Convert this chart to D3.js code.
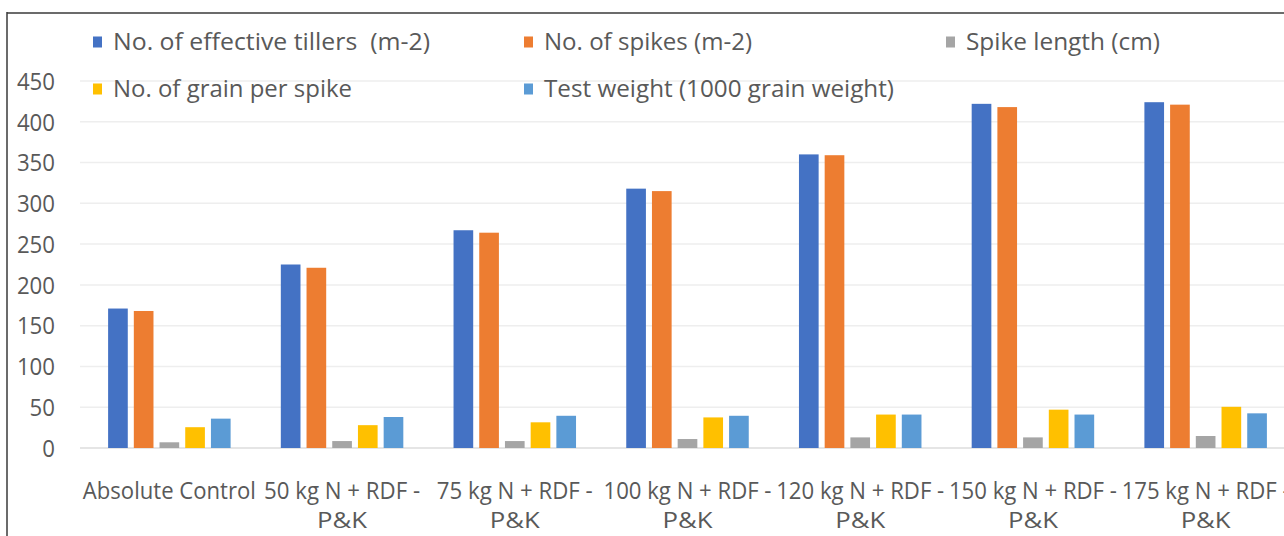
<!DOCTYPE html>
<html><head><meta charset="utf-8">
<script src="https://cdn.jsdelivr.net/npm/d3@7"></script>
<style>
html,body{margin:0;padding:0;background:#fff;overflow:hidden;}
svg{display:block;}
text{font-family:"Open Sans","Noto Sans",sans-serif;fill:#595959;}
</style></head>
<body>
<svg id="chart" width="1284" height="536"></svg>
<script>
const categories = ["Absolute Control","50 kg N + RDF - P&K","75 kg N + RDF - P&K","100 kg N + RDF - P&K","120 kg N + RDF - P&K","150 kg N + RDF - P&K","175 kg N + RDF - P&K"];
const categoryLines = [["Absolute Control"],["50 kg N + RDF -","P&K"],["75 kg N + RDF -","P&K"],["100 kg N + RDF -","P&K"],["120 kg N + RDF -","P&K"],["150 kg N + RDF -","P&K"],["175 kg N + RDF -","P&K"]];
const seriesNames = ["No. of effective tillers  (m-2)","No. of spikes (m-2)","Spike length (cm)","No. of grain per spike","Test weight (1000 grain weight)"];
const seriesColors = ["#4472C4","#ED7D31","#A5A5A5","#FFC000","#5B9BD5"];
const effectiveTillers = [171,225,267,318,360,422,424];
const spikes = [168,221,264,315,359,418,421];
const spikeLength = [7,8.5,8.5,11,13,13,14.7];
const grainPerSpike = [25.5,28,31.5,37.5,41,47,50.5];
const testWeight = [36,38,39.5,39.5,41,41,42.5];
const yTicks = [0,50,100,150,200,250,300,350,400,450];

const seriesValues = [effectiveTillers, spikes, spikeLength, grainPerSpike, testWeight];

const svg = d3.select("#chart");

// frame
svg.append("line").attr("x1",7).attr("x2",1284).attr("y1",13).attr("y2",13).attr("stroke","#6b6b6b").attr("stroke-width",2);
svg.append("line").attr("x1",7).attr("x2",7).attr("y1",12).attr("y2",536).attr("stroke","#3a3a3a").attr("stroke-width",1.5);

const x0 = d3.scaleBand().domain(categories).range([83,1292]).padding(0);
const clusterW = 122.5;
const x1 = d3.scaleBand().domain(d3.range(seriesNames.length)).range([0,clusterW]).paddingInner(0.235).paddingOuter(0);
const y = d3.scaleLinear().domain([0,450]).range([448,81]);

// grid
const grid = svg.append("g");
grid.selectAll("line").data(yTicks).join("line")
  .attr("x1",80).attr("x2",1284)
  .attr("y1",d=>y(d)).attr("y2",d=>y(d))
  .attr("stroke",d=>d===0?"#dcdcdc":"#eeeeee").attr("stroke-width",1.5);

// y axis
const yAxis = d3.axisLeft(y).tickValues(yTicks).tickSize(0).tickPadding(0);
const yg = svg.append("g").attr("transform","translate(55,0)").call(yAxis);
yg.select(".domain").remove();
yg.selectAll("text").style("font-size","23px").style("font-family",null).attr("fill","#595959")
  .attr("text-anchor","end").attr("dy","0.36em")
  .attr("textLength",d=>String(d).length*12.7).attr("lengthAdjust","spacingAndGlyphs");

// bars
const groups = svg.append("g").selectAll("g").data(categories).join("g")
  .attr("transform",d=>`translate(${x0(d)+(x0.bandwidth()-clusterW)/2},0)`);
groups.selectAll("rect").data((c,i)=>seriesValues.map((s,j)=>({j,v:s[i]}))).join("rect")
  .attr("x",d=>x1(d.j)).attr("width",x1.bandwidth())
  .attr("y",d=>y(d.v)).attr("height",d=>y(0)-y(d.v))
  .attr("fill",d=>seriesColors[d.j]);

// x labels
const lineWidth = s => s==="P&K" ? 50 : (s==="Absolute Control" ? 173 : (s.length>=16 ? 168 : 156));
const xl = svg.append("g");
categories.forEach((c,i)=>{
  categoryLines[i].forEach((ln,k)=>{
    xl.append("text").attr("x",x0(c)+x0.bandwidth()/2).attr("y",k===0?491:520).attr("dy","0.36em")
      .attr("text-anchor","middle").style("font-size",k===0?"23px":"21px")
      .attr("textLength",lineWidth(ln)).attr("lengthAdjust","spacingAndGlyphs").text(ln);
  });
});

// legend
const legendPos = [[93,42],[524,42],[946,42],[93,89],[524,89]];
const legendWidths = [317,208,194,239,350];
const lg = svg.append("g");
seriesNames.forEach((n,i)=>{
  const [lx,ly] = legendPos[i];
  lg.append("rect").attr("x",lx).attr("y",ly-5.5).attr("width",9).attr("height",11).attr("fill",seriesColors[i]);
  lg.append("text").attr("x",lx+20).attr("y",ly).attr("dy","0.36em").style("font-size","23px")
    .attr("xml:space","preserve").attr("textLength",legendWidths[i]).attr("lengthAdjust","spacingAndGlyphs").text(n);
});
</script>
</body></html>
